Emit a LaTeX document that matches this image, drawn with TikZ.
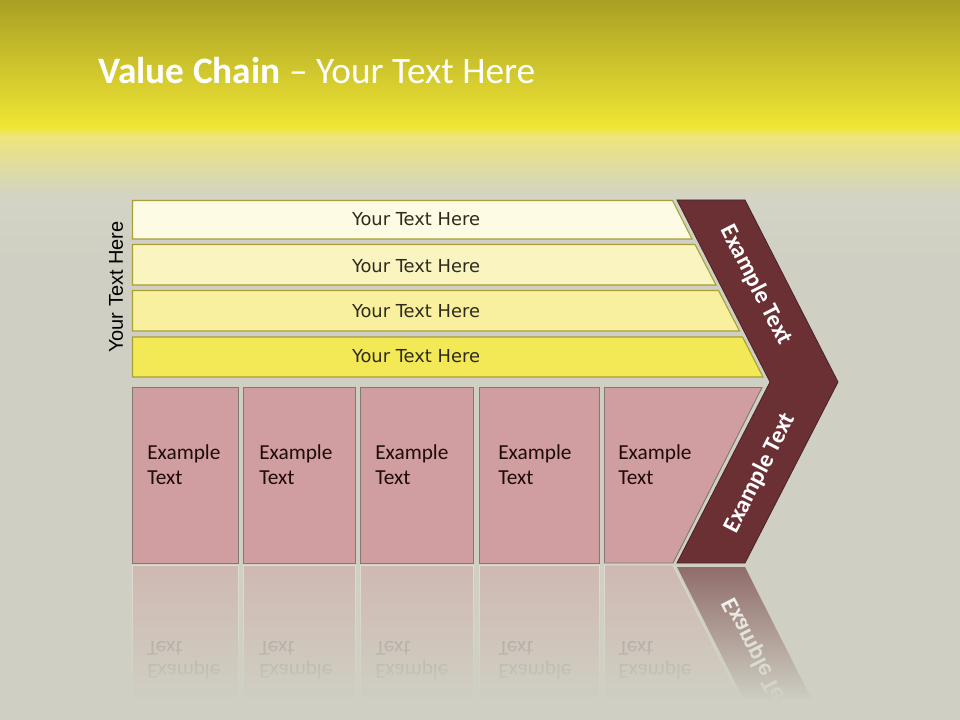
\documentclass[tikz,border=0pt]{standalone}
\usepackage{fontspec}
\setmainfont{Carlito}
\newfontfamily\dejavu{DejaVu Sans}
\newfontfamily\libsans{Liberation Sans}
\usetikzlibrary{calc,fadings}
\definecolor{bgc}{HTML}{CFCFC3}
\definecolor{topA}{HTML}{A9A024}
\definecolor{topB}{HTML}{F0E635}
\definecolor{topC}{HTML}{EDE57A}
\definecolor{topD}{HTML}{D3D3C6}
\definecolor{barA}{HTML}{FDFBE3}
\definecolor{barB}{HTML}{FAF5C0}
\definecolor{barC}{HTML}{F8F09E}
\definecolor{barD}{HTML}{F3E856}
\definecolor{barline}{HTML}{A89F35}
\definecolor{pinkc}{HTML}{D09EA0}
\definecolor{pinkline}{HTML}{857775}
\definecolor{chevc}{HTML}{6A3034}
\definecolor{chevline}{HTML}{4A2224}
\definecolor{bartext}{HTML}{2E2A1E}
\definecolor{extext}{HTML}{200A0A}
\tikzfading[name=reflfade, top color=transparent!100, middle color=transparent!72, bottom color=transparent!0]
\tikzset{
  barshape/.style={draw=barline, line width=0.8pt},
  pinkbox/.style={fill=pinkc, draw=pinkline, line width=0.7pt},
  reflbox/.style={fill=pinkc!45!bgc, draw=bgc!70!white, line width=0.6pt},
  bartxt/.style={font=\dejavu\fontsize{13.4}{16}\selectfont, text=bartext},
  extxt/.style={font=\fontsize{16}{19.2}\selectfont, text=extext, align=left, anchor=north west, inner sep=0pt},
  refltxt/.style={font=\fontsize{16}{19.2}\selectfont, align=left, anchor=north west, inner sep=0pt},
  chevtxt/.style={font=\bfseries\fontsize{18}{21}\selectfont, text=white},
}
\begin{document}
\begin{tikzpicture}[x=0.75pt,y=-0.75pt]
\useasboundingbox (0,0) rectangle (960,720);
% background
\fill[bgc] (0,0) rectangle (960,720);
\shade[top color=topA, bottom color=topB] (0,0) rectangle (960,128);
\shade[top color=topB, bottom color=topC] (0,127.5) rectangle (960,136);
\shade[top color=topC, bottom color=topD] (0,135.5) rectangle (960,198);
\shade[top color=topD, bottom color=bgc] (0,197.5) rectangle (960,260);
% title
\node[anchor=base west, inner sep=0pt, text=white, font=\fontsize{28}{32}\selectfont] (title) at (98,84) {\textbf{Value Chain} -- Your Text Here};
% reflections
\draw[reflbox] (132.5,565) rectangle (238.5,720);
\draw[reflbox] (243.5,565) rectangle (355.5,720);
\draw[reflbox] (360.5,565) rectangle (473.5,720);
\draw[reflbox] (479,565) rectangle (599.5,720);
\draw[reflbox] (604.5,565) -- (673,565) -- (751,720) -- (604.5,720) -- cycle;
\fill[chevc!62!bgc] (677,567) -- (745,567) -- (822,720) -- (754,720) -- cycle;
\foreach \x/\n in {147/a,259/b,375/c,498/d,618/e}{
  \node[refltxt, text=pinkc!30!bgc!72!black] (r\n) at (\x,634) {\scalebox{1}[-1]{\begin{tabular}{@{}l@{}}Example\\[-2pt]Text\end{tabular}}};
}
\node[chevtxt, text=white!88!bgc, rotate=-63] (rchev) at (758,658) {\scalebox{1}[-1]{Example Text}};
\fill[bgc, path fading=reflfade] (120,566) rectangle (860,700);
\fill[bgc] (120,699) rectangle (860,720);
% yellow bars
\fill[barA, barshape] (132.5,200.5) -- (672.5,200.5) -- (692,239) -- (132.5,239) -- cycle;
\fill[barB, barshape] (132.5,244.5) -- (695,244.5) -- (716,285) -- (132.5,285) -- cycle;
\fill[barC, barshape] (132.5,290.5) -- (718.5,290.5) -- (739.5,331) -- (132.5,331) -- cycle;
\fill[barD, barshape] (132.5,337) -- (742.5,337) -- (763,377) -- (132.5,377) -- cycle;
\node[bartxt] (t1) at (416,219) {Your Text Here};
\node[bartxt] (t2) at (416,266) {Your Text Here};
\node[bartxt] (t3) at (416,311) {Your Text Here};
\node[bartxt] (t4) at (416,356) {Your Text Here};
\node[rotate=90, font=\libsans\fontsize{15}{17}\selectfont, text=black] (vt) at (116,287) {Your Text Here};
% pink boxes
\draw[pinkbox] (132.5,387.5) rectangle (238.5,563);
\draw[pinkbox] (243.5,387.5) rectangle (355.5,563);
\draw[pinkbox] (360.5,387.5) rectangle (473.5,563);
\draw[pinkbox] (479,387.5) rectangle (599.5,563);
\draw[pinkbox] (604.5,387.5) -- (762,387.5) -- (673,563) -- (604.5,563) -- cycle;
\node[extxt] (e1) at (147,444) {Example\\Text};
\node[extxt] (e2) at (259,444) {Example\\Text};
\node[extxt] (e3) at (375,444) {Example\\Text};
\node[extxt] (e4) at (498,444) {Example\\Text};
\node[extxt] (e5) at (618,444) {Example\\Text};
% chevron
\fill[chevc, draw=chevline, line width=0.6pt] (677,200) -- (745,200) -- (838,382) -- (745,563) -- (677,563) -- (770,382) -- cycle;
\node[chevtxt, rotate=-63] (c1) at (756,285) {Example Text};
\node[chevtxt, rotate=63] (c2) at (760,473) {Example Text};
\end{tikzpicture}
\end{document}
